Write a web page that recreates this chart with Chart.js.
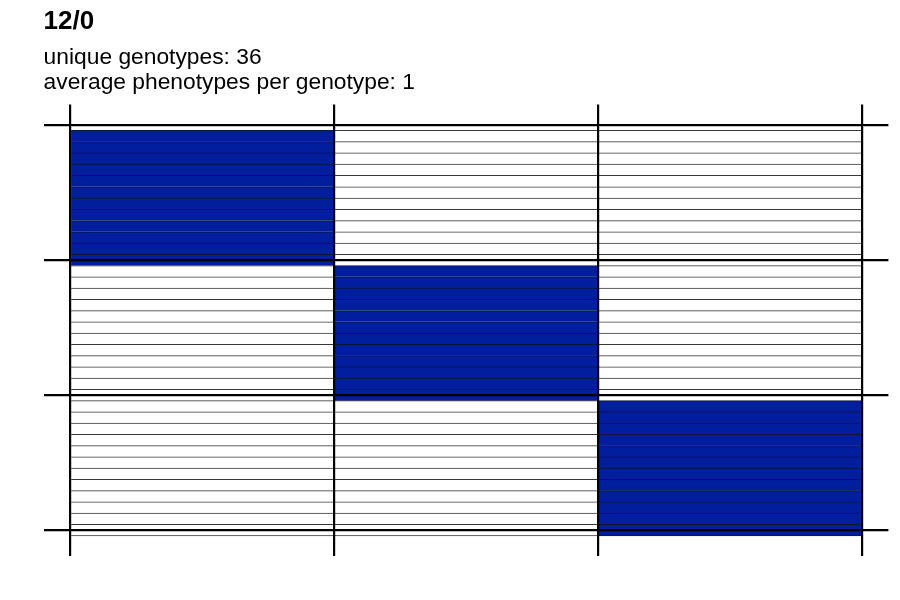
<!DOCTYPE html>
<html>
<head>
<meta charset="utf-8">
<script src="https://cdn.jsdelivr.net/npm/chart.js@4/dist/chart.umd.min.js"></script>
<style>
  html, body { margin: 0; padding: 0; background: #ffffff; }
  #wrap { width: 900px; height: 600px; }
</style>
</head>
<body>
<div id="wrap"><canvas id="c" width="900" height="600"></canvas></div>
<script>
// ---- data ----
const titleText = '12/0';
const subtitleLines = ['unique genotypes: 36', 'average phenotypes per genotype: 1'];
const genotypes = [1, 2, 3, 4, 5, 6, 7, 8, 9, 10, 11, 12,
                   13, 14, 15, 16, 17, 18, 19, 20, 21, 22, 23, 24,
                   25, 26, 27, 28, 29, 30, 31, 32, 33, 34, 35, 36];
// phenotype column (0,1,2) observed for each genotype row
const phenotypeOfGenotype = [0, 0, 0, 0, 0, 0, 0, 0, 0, 0, 0, 0,
                             1, 1, 1, 1, 1, 1, 1, 1, 1, 1, 1, 1,
                             2, 2, 2, 2, 2, 2, 2, 2, 2, 2, 2, 2];
const phenotypeColumns = ['P1', 'P2', 'P3'];
const columnWidths = [1, 1, 1];
const rowGroupBreaks = [0, 12, 24, 36];
const columnBreaks = [0, 1, 2, 3];

// ---- styles ----
const BLUE = '#001e9e';
const WHITE = '#ffffff';

const datasets = phenotypeColumns.map((name, c) => ({
  label: name,
  data: genotypes.map(g => ({ y: g, x: columnWidths[c] })),
  backgroundColor: ctx => phenotypeOfGenotype[ctx.dataIndex] === c ? BLUE : WHITE,
  borderColor: ctx => phenotypeOfGenotype[ctx.dataIndex] === c ? '#10133a' : '#3a3a3a',
  borderWidth: ctx => ({ top: 1, bottom: ctx.dataIndex === genotypes.length - 1 ? 1 : 0, left: 0, right: 0 }),
  borderSkipped: false,
  barPercentage: 1,
  categoryPercentage: 1,
  inflateAmount: 0.4
}));

new Chart(document.getElementById('c'), {
  type: 'bar',
  data: { datasets },
  options: {
    indexAxis: 'y',
    responsive: false,
    animation: false,
    events: [],
    layout: { padding: { left: 43.6, right: 11.6, top: 0, bottom: 44 } },
    plugins: {
      legend: { display: false },
      tooltip: { enabled: false },
      title: {
        display: true,
        text: titleText,
        align: 'start',
        color: '#000000',
        font: { family: "'Liberation Sans', Arial, sans-serif", size: 26, weight: 'bold', lineHeight: 1.2 },
        padding: { top: 6, bottom: 8.5 }
      },
      subtitle: {
        display: true,
        text: subtitleLines,
        align: 'start',
        color: '#000000',
        font: { family: "'Liberation Sans', Arial, sans-serif", size: 22.8, weight: 'normal', lineHeight: 1.0746 },
        padding: { top: 0, bottom: 9.9 }
      }
    },
    scales: {
      x: {
        type: 'linear',
        stacked: true,
        min: -0.1,
        max: 3.1,
        offset: false,
        afterBuildTicks: s => { s.ticks = columnBreaks.map(v => ({ value: v })); },
        ticks: { display: false },
        border: { display: false },
        grid: { color: '#000000', lineWidth: 2.2, drawTicks: false, offset: false, z: 1 }
      },
      y: {
        type: 'linear',
        stacked: true,
        reverse: true,
        min: -1.8,
        max: 38.3,
        offset: false,
        afterBuildTicks: s => { s.ticks = rowGroupBreaks.map(v => ({ value: v })); },
        ticks: { display: false },
        border: { display: false },
        grid: { color: '#000000', lineWidth: 2.2, drawTicks: false, offset: false, z: 1 }
      }
    }
  }
});
</script>
</body>
</html>
